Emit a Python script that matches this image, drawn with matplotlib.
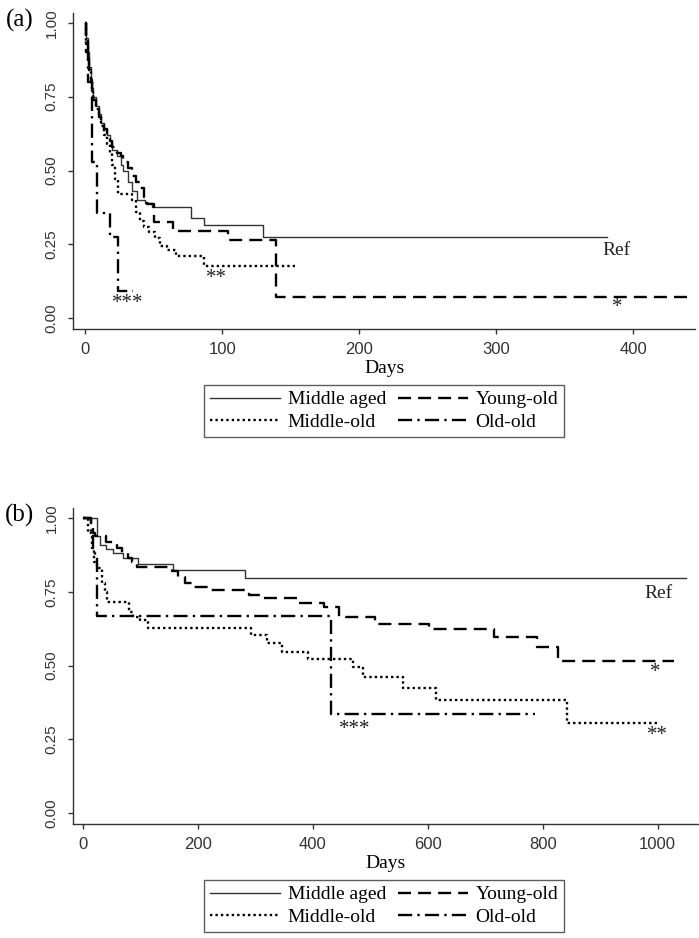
import matplotlib
matplotlib.use("Agg")
import matplotlib.pyplot as plt

# ---- data ----
labels = ["Middle aged", "Young-old", "Middle-old", "Old-old"]

# panel (a)
ma_a_t = [0, 1, 2, 3, 4, 5, 6, 8, 10, 12, 14, 16, 18, 20, 23, 26, 28, 31, 34, 38, 44, 49, 77, 87, 130, 381]
ma_a_s = [1.0, 0.95, 0.9, 0.85, 0.81, 0.78, 0.75, 0.72, 0.69, 0.66, 0.64, 0.62, 0.60, 0.57, 0.55, 0.52,
          0.50, 0.46, 0.43, 0.40, 0.39, 0.375, 0.34, 0.315, 0.275, 0.275]
yo_a_t = [0, 1, 2, 3, 4, 5, 6, 8, 10, 12, 14, 16, 18, 20, 23, 26, 28, 31, 34, 37, 40, 43, 45, 50, 64, 104, 139, 440]
yo_a_s = [1.0, 0.94, 0.89, 0.84, 0.80, 0.77, 0.74, 0.71, 0.68, 0.66, 0.64, 0.62, 0.60, 0.58, 0.56, 0.55,
          0.53, 0.51, 0.48, 0.46, 0.44, 0.41, 0.385, 0.325, 0.295, 0.265, 0.07, 0.07]
mo_a_t = [0, 1, 2, 3, 4, 5, 6, 8, 10, 12, 14, 16, 18, 20, 22, 24, 34, 37, 40, 43, 47, 51, 55, 60, 66, 87, 153]
mo_a_s = [1.0, 0.93, 0.88, 0.84, 0.80, 0.77, 0.74, 0.71, 0.68, 0.65, 0.62, 0.59, 0.56, 0.52, 0.47, 0.42,
          0.40, 0.36, 0.33, 0.31, 0.29, 0.27, 0.245, 0.23, 0.21, 0.175, 0.175]
oo_a_t = [0, 1, 2, 5, 9, 18, 24, 35]
oo_a_s = [1.0, 0.9, 0.8, 0.53, 0.356, 0.275, 0.093, 0.093]

# panel (b)
ma_b_t = [0, 24, 30, 40, 52, 70, 96, 157, 283, 1050]
ma_b_s = [1.0, 0.94, 0.91, 0.895, 0.88, 0.865, 0.845, 0.825, 0.797, 0.797]
yo_b_t = [0, 14, 18, 22, 40, 60, 68, 78, 86, 95, 155, 165, 178, 190, 220, 290, 312, 375, 420, 445,
          508, 603, 715, 790, 826, 1028]
yo_b_s = [1.0, 0.97, 0.95, 0.94, 0.92, 0.90, 0.88, 0.865, 0.85, 0.835, 0.82, 0.80, 0.78, 0.765, 0.756,
          0.739, 0.729, 0.711, 0.70, 0.665, 0.64, 0.623, 0.597, 0.563, 0.515, 0.515]
mo_b_t = [0, 10, 16, 20, 25, 33, 38, 42, 81, 88, 100, 113, 293, 320, 346, 392, 470, 487, 557, 615, 842, 1000]
mo_b_s = [1.0, 0.95, 0.9, 0.85, 0.83, 0.78, 0.75, 0.715, 0.68, 0.665, 0.655, 0.627, 0.605, 0.576, 0.546,
          0.522, 0.495, 0.462, 0.423, 0.383, 0.305, 0.305]
oo_b_t = [0, 14, 18, 22, 24, 432, 786]
oo_b_s = [1.0, 0.95, 0.9, 0.87, 0.667, 0.335, 0.335]

y_ticks = [0.0, 0.25, 0.5, 0.75, 1.0]
y_ticklabels = ["0.00", "0.25", "0.50", "0.75", "1.00"]
x_ticks_a = [0, 100, 200, 300, 400]
x_ticks_b = [0, 200, 400, 600, 800, 1000]

# annotations: (text, x, y)
notes_a = [("Ref", 388, 0.23), ("*", 388, 0.035), ("**", 96, 0.135), ("***", 31, 0.05)]
notes_b = [("Ref", 1002, 0.745), ("*", 995, 0.475), ("**", 1000, 0.262), ("***", 473, 0.285)]

SERIF = "Liberation Serif"
SANS = "Liberation Sans"

styles = [
    dict(color="#333333", lw=1.0, linestyle="-"),
    dict(color="black", lw=1.7, linestyle=(0, (5.5, 3))),
    dict(color="black", lw=1.7, linestyle=(0, (1, 1.3))),
    dict(color="black", lw=1.7, linestyle=(0, (6, 2.2, 1, 2.2))),
]


def draw_panel(ax, series, xticks, xlim, notes, tag):
    handles = []
    for (t, s), st, lab in zip(series, styles, labels):
        h, = ax.step(t, s, where="post", label=lab, **st)
        handles.append(h)
    ax.set_xlim(*xlim)
    ax.set_ylim(-0.037, 1.034)
    ax.spines["top"].set_visible(False)
    ax.spines["right"].set_visible(False)
    for sp in ("left", "bottom"):
        ax.spines[sp].set_linewidth(1.0)
        ax.spines[sp].set_color("#333333")
    ax.set_xticks(xticks)
    ax.set_xticklabels([str(v) for v in xticks], fontfamily=SANS, fontsize=12, color="#333333")
    ax.set_yticks(y_ticks)
    ax.set_yticklabels(y_ticklabels, fontfamily=SANS, fontsize=11, color="#333333",
                       rotation=90, va="center")
    ax.tick_params(direction="out", length=3.5, width=1.0, color="#333333")
    ax.tick_params(axis="x", pad=6)
    ax.tick_params(axis="y", pad=7)
    ax.set_xlabel("Days", fontfamily=SERIF, fontsize=14, labelpad=2)
    for txt, x, y in notes:
        fs = 14 if txt == "Ref" else 15
        ax.text(x, y, txt, fontfamily=SERIF, fontsize=fs, ha="center", va="center", color="#222222")
    ax.text(-0.085, 0.975, tag, transform=ax.transAxes, fontfamily=SERIF, fontsize=18,
            ha="center", va="center")
    return handles


fig = plt.figure(figsize=(6.99, 9.38), dpi=100)
ax_a = fig.add_axes([0.1044, 0.6493, 0.890, 0.3369])
ax_b = fig.add_axes([0.1044, 0.1215, 0.894, 0.3369])

h_a = draw_panel(ax_a, [(ma_a_t, ma_a_s), (yo_a_t, yo_a_s), (mo_a_t, mo_a_s), (oo_a_t, oo_a_s)],
                 x_ticks_a, (-8.8, 445), notes_a, "(a)")
h_b = draw_panel(ax_b, [(ma_b_t, ma_b_s), (yo_b_t, yo_b_s), (mo_b_t, mo_b_s), (oo_b_t, oo_b_s)],
                 x_ticks_b, (-17, 1070), notes_b, "(b)")

# legend order so rows read: Middle aged / Young-old, Middle-old / Old-old
for h, top in ((h_a, 385), (h_b, 880)):
    order = [h[0], h[2], h[1], h[3]]
    leg = fig.legend(order, [x.get_label() for x in order], ncol=2, loc="upper left",
                     bbox_to_anchor=(204 / 699, 1 - top / 938), borderaxespad=0,
                     prop={"family": SERIF, "size": 14}, frameon=True, fancybox=False,
                     handlelength=3.6, handletextpad=0.4, columnspacing=0.6,
                     labelspacing=0.25, borderpad=0.3)
    leg.get_frame().set_edgecolor("#333333")
    leg.get_frame().set_linewidth(1.0)

fig.savefig("out.png", dpi=100)
